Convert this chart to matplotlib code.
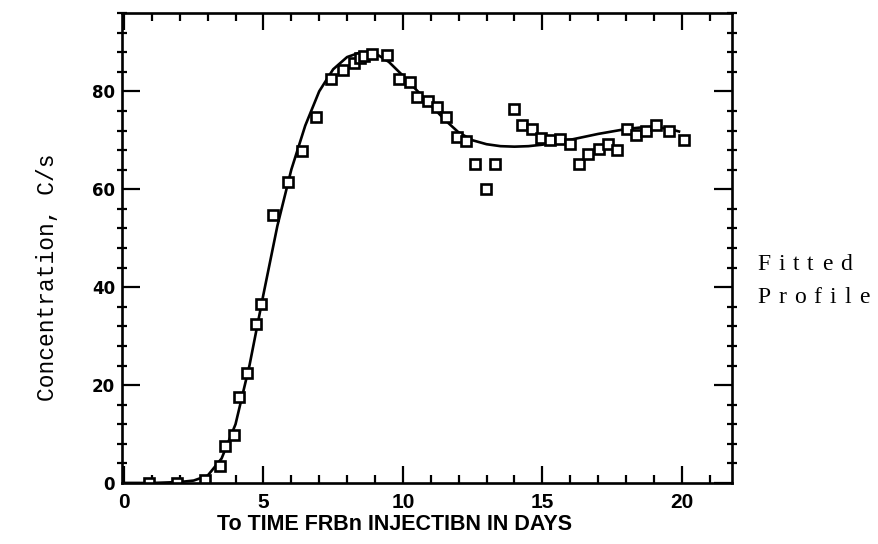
import matplotlib
matplotlib.use("Agg")
import matplotlib.pyplot as plt
from matplotlib.ticker import MultipleLocator

# observed concentrations (squares)
obs_days = [0.9, 1.9, 2.9, 3.44, 3.62, 3.95, 4.12, 4.4, 4.72, 4.91,
            5.34, 5.88, 6.38, 6.88, 7.44, 7.86, 8.23, 8.45, 8.6, 8.9,
            9.43, 9.87, 10.26, 10.52, 10.9, 11.24, 11.55, 11.95, 12.27, 12.58,
            12.97, 13.3, 13.98, 14.27, 14.63, 14.97, 15.27, 15.64, 16.0, 16.33,
            16.65, 17.04, 17.35, 17.66, 18.04, 18.35, 18.7, 19.07, 19.53, 20.07]
obs_conc = [0.0, 0.0, 0.6, 3.5, 7.5, 9.8, 17.5, 22.5, 32.5, 36.5,
            54.7, 61.5, 67.8, 74.8, 82.6, 84.4, 85.8, 86.8, 87.3, 87.6,
            87.5, 82.6, 82.0, 78.8, 78.0, 76.8, 74.8, 70.6, 69.8, 65.2,
            60.0, 65.2, 76.4, 73.2, 72.4, 70.4, 70.0, 70.2, 69.2, 65.2,
            67.2, 68.2, 69.2, 68.0, 72.4, 71.0, 72.0, 73.2, 72.0, 70.0]

# fitted profile (solid line)
fit_days = [0, 1, 2, 2.5, 3, 3.5, 4, 4.5, 5, 5.5, 6, 6.5, 7, 7.5, 8, 8.5,
            9, 9.5, 10, 10.5, 11, 11.5, 12, 12.5, 13, 13.5, 14, 14.5, 15,
            15.5, 16, 16.5, 17, 17.5, 18, 18.5, 19, 19.5, 19.9]
fit_conc = [0, 0, 0.2, 0.5, 1.5, 5, 12, 24, 38.5, 52.5, 64, 73, 80, 84.5, 87,
            88, 87.8, 86, 83.2, 80.2, 77.2, 74.2, 71.6, 70.0, 69.2, 68.8, 68.7,
            68.8, 69.1, 69.6, 70.1, 70.7, 71.3, 71.8, 72.3, 72.6, 72.7, 72.4, 71.8]

xticks = [0, 5, 10, 15, 20]
yticks = [0, 20, 40, 60, 80]

fig = plt.figure(figsize=(8.79, 5.44), dpi=100)
ax = fig.add_axes([122 / 879, 1 - 483 / 544, (732 - 122) / 879, (483 - 13) / 544])

ax.plot(fit_days, fit_conc, color="black", lw=1.9, zorder=2)
ax.plot(obs_days, obs_conc, ls="none", marker="s", ms=7, mfc="white",
        mec="black", mew=1.9, zorder=3)

ax.set_xlim(-0.07, 21.8)
ax.set_ylim(0, 96)
ax.set_xticks(xticks)
ax.set_yticks(yticks)
ax.xaxis.set_minor_locator(MultipleLocator(1))
ax.yaxis.set_minor_locator(MultipleLocator(4))

for s in ax.spines.values():
    s.set_linewidth(1.9)
    s.set_zorder(4)

ax.tick_params(axis="x", which="major", direction="in", length=12, width=1.6,
               top=True, pad=7)
ax.tick_params(axis="x", which="minor", direction="in", length=6, width=1.6,
               top=True)
ax.tick_params(axis="y", which="major", direction="in", length=13, width=1.6,
               right=True, pad=5)
ax.tick_params(axis="y", which="minor", direction="inout", length=7, width=1.6,
               right=True)

for lab in ax.get_xticklabels():
    lab.set_family("Liberation Sans")
    lab.set_fontweight("bold")
    lab.set_fontsize(15)
for lab in ax.get_yticklabels():
    lab.set_family("DejaVu Sans")
    lab.set_fontweight("bold")
    lab.set_fontsize(12)

fig.text(395 / 879, 1 - 525 / 544, "To TIME FRBn INJECTIBN IN DAYS",
         ha="center", va="center", fontsize=15.5, fontweight="bold",
         family="Liberation Sans")

fig.text(48 / 879, 1 - 277 / 544, "Concentration, C/s", rotation=90,
         ha="center", va="center", fontsize=16.5, family="Liberation Mono")


def tracked(x_px, y_px, s, gap_px, size):
    # draw a word letter by letter with extra spacing
    r = fig.canvas.get_renderer()
    for ch in s:
        t = fig.text(x_px / 879, 1 - y_px / 544, ch, fontsize=size,
                     family="Liberation Serif", ha="left", va="baseline")
        w = t.get_window_extent(renderer=r).width
        x_px += w + gap_px


tracked(757, 270, "Fitted", 8.0, 17)
tracked(757, 303, "Profile", 8.0, 17)

fig.savefig("out.png", dpi=100)
